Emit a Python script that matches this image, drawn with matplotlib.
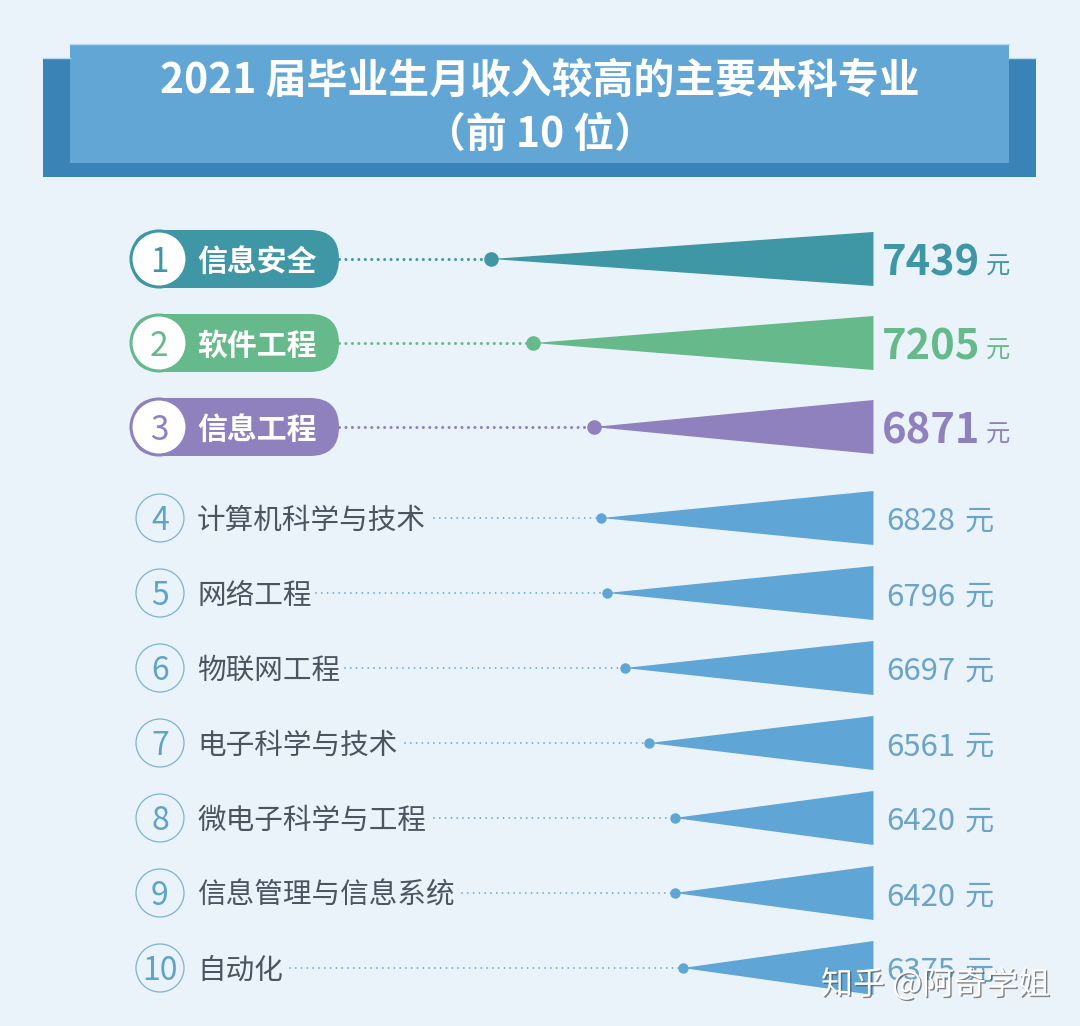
import matplotlib
matplotlib.use("Agg")
import matplotlib.pyplot as plt
import matplotlib.patheffects as pe
from matplotlib.patches import FancyBboxPatch, Circle, Rectangle, Polygon

plt.rcParams['font.family'] = ['Noto Sans CJK SC', 'DejaVu Sans']

# DATA
majors = ["信息安全", "软件工程", "信息工程", "计算机科学与技术", "网络工程",
          "物联网工程", "电子科学与技术", "微电子科学与工程", "信息管理与信息系统", "自动化"]
income = [7439, 7205, 6871, 6828, 6796, 6697, 6561, 6420, 6420, 6375]
unit = "元"
title_lines = ["2021 届毕业生月收入较高的主要本科专业", "（前 10 位）"]
watermark = "知乎 @阿奇学姐"

# LAYOUT (pixels)
row_y = [259, 343, 427, 518, 593, 668, 743, 818, 893, 968]
line_start = [339, 339, 339, 434, 316, 345, 405, 434, 462, 290]
top_colors = ["#3f96a4", "#66b98a", "#8f81bd"]
rest_color = "#5fa5d5"
bg = "#eaf3fa"

fig = plt.figure(figsize=(10.8, 10.26), dpi=100, facecolor=bg)

# value axis: runs right to left, wedge base sits at base_value
base_value = 5315
ax_val = fig.add_axes([0, 0, 1, 1], zorder=1)
ax_val.set_xlim(10170, 4167)
ax_val.set_ylim(1026, 0)
ax_val.axis("off")

# pixel axis for the text and the boxes
ax = fig.add_axes([0, 0, 1, 1], zorder=2)
ax.set_xlim(0, 1080)
ax.set_ylim(1026, 0)
ax.axis("off")
ax.patch.set_alpha(0)

# HEADER
ax.add_patch(Rectangle((43, 58), 993, 119, fc="#3a83b6", ec="none"))
ax.add_patch(Rectangle((70, 44), 939, 119, fc="#62a6d6", ec="none"))
ax.plot([70, 1009], [44, 44], color="#b5dcf2", lw=1)
ax.plot([1009, 1036], [58, 58], color="#b5dcf2", lw=1)
ax.plot([43, 70], [58, 58], color="#b5dcf2", lw=1)
ax.text(540, 81, title_lines[0], color="white", fontsize=29.4, fontweight="bold", ha="center", va="center")
ax.text(540, 135, title_lines[1], color="white", fontsize=29.4, fontweight="bold", ha="center", va="center")


def px_to_value(px):
    x0, x1 = ax_val.get_xlim()
    return x0 + (x1 - x0) * px / 1080


for i, (name, v) in enumerate(zip(majors, income)):
    y = row_y[i]
    top = i < 3
    col = top_colors[i] if top else rest_color

    # wedge
    ax_val.add_patch(Polygon([(v, y), (base_value, y - 27), (base_value, y + 27)], closed=True, fc=col, ec="none"))

    # dotted leader + end dot
    ax_val.plot([px_to_value(line_start[i]), v], [y, y], color=col, lw=2.2 if top else 1.3,
                dashes=(0.01, 2.1 if top else 3.2), dash_capstyle="round")
    ax_val.plot([v], [y], "o", color=col, ms=10.5 if top else 7.5, mec="none")

    if top:
        ax.add_patch(FancyBboxPatch((131, y - 29), 208, 58, boxstyle="round,pad=0,rounding_size=29", fc=col, ec="none"))
        ax.add_patch(Circle((159, y), 28, fc="white", ec=col, lw=2.2))
        ax.text(159, y + 3, str(i + 1), color=col, fontsize=24, fontweight="light", ha="center", va="center")
        ax.text(197, y + 3, name, color="white", fontsize=21.5, fontweight="bold", ha="left", va="center")
        ax.text(882, y + 5, str(v), color=col, fontsize=30, fontweight="bold", ha="left", va="center")
        ax.text(986, y + 8, unit, color=col, fontsize=17.5, ha="left", va="center")
    else:
        ax.add_patch(Circle((160, y), 24, fc="none", ec="#7db3cf", lw=0.9))
        ax.text(160, y + 3, str(i + 1), color="#5fa3c7", fontsize=23, fontweight="light", ha="center", va="center")
        ax.text(197, y + 3, name, color="#4a5560", fontsize=20.6, ha="left", va="center")
        ax.text(886, y + 4, str(v), color="#6ba3c9", fontsize=22.4, ha="left", va="center")
        ax.text(965, y + 4, unit, color="#6ba3c9", fontsize=21, ha="left", va="center")

# WATERMARK
ax.text(821, 985, watermark, color="white", fontsize=23, ha="left", va="center", zorder=10,
        path_effects=[pe.withSimplePatchShadow(offset=(1, -1), shadow_rgbFace="#555555", alpha=0.7)])

fig.savefig("out.png", dpi=100, facecolor=bg)
